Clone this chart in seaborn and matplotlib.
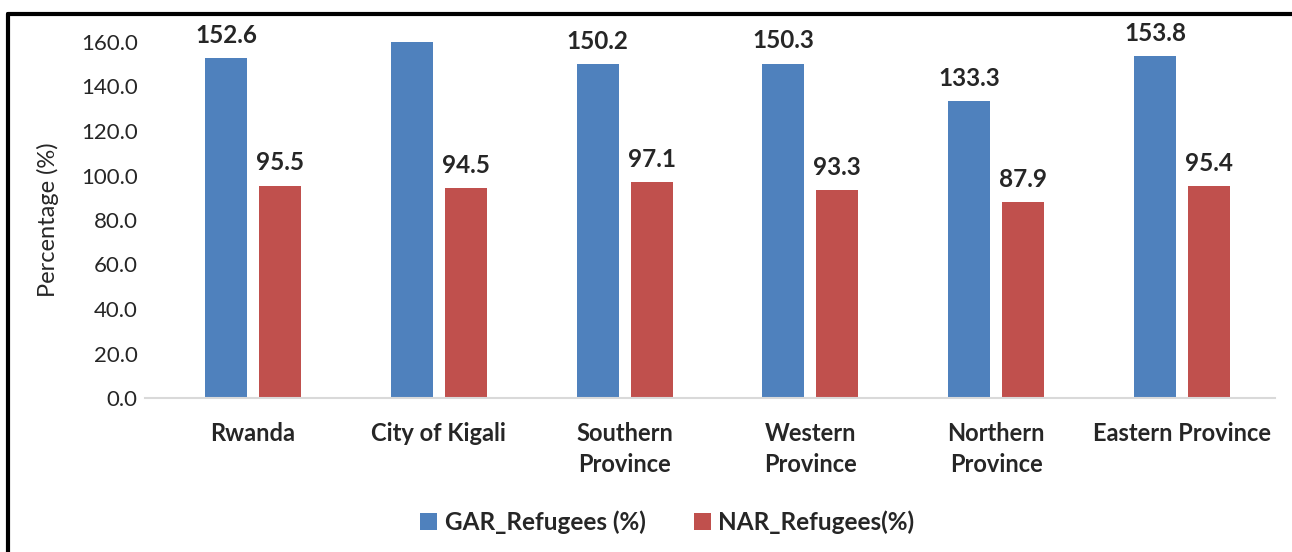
import pandas as pd
import seaborn as sns
import matplotlib.pyplot as plt
from matplotlib.lines import Line2D

# Data
regions = ['Rwanda', 'City of Kigali', 'Southern\nProvince', 'Western\nProvince',
           'Northern\nProvince', 'Eastern Province']
gar = [152.6, 161.0, 150.2, 150.3, 133.3, 153.8]
nar = [95.5, 94.5, 97.1, 93.3, 87.9, 95.4]
series = ['GAR_Refugees (%)', 'NAR_Refugees(%)']
colors = ['#4F81BD', '#C0504D']
ymax = 160

df = pd.DataFrame({'region': regions * 2,
                   'value': gar + nar,
                   'series': [series[0]] * len(regions) + [series[1]] * len(regions)})

sns.set_style('white')
plt.rcParams['font.family'] = ['Lato', 'DejaVu Sans']

fig = plt.figure(figsize=(12.92, 5.52), dpi=100)
ax = fig.add_axes([160 / 1292, 1 - 398 / 552, 1115 / 1292, 356 / 552])

sns.barplot(data=df, x='region', y='value', hue='series', palette=colors,
            width=0.58, gap=0.22, ax=ax, saturation=1, edgecolor='none')

ax.set_ylim(0, ymax)
ax.set_yticks(range(0, 161, 20))
ax.set_yticklabels([f'{v:.1f}' for v in range(0, 161, 20)], fontsize=16)
ax.set_ylabel('Percentage (%)', fontsize=17, labelpad=16)
ax.set_xlabel('')
ax.tick_params(axis='x', labelsize=17, pad=17, length=0)
ax.tick_params(axis='y', pad=16, length=0)
for lbl in ax.get_xticklabels():
    lbl.set_fontweight('bold')
    lbl.set_linespacing(1.45)

for s in ['top', 'right', 'left']:
    ax.spines[s].set_visible(False)
ax.spines['bottom'].set_color('#D9D9D9')
ax.spines['bottom'].set_linewidth(1.5)
ax.spines['bottom'].set_bounds(-0.58, 5.5)

# value labels, skip bars that run past the axis top
for cont in ax.containers:
    labels = [f'{b.get_height():.1f}' if b.get_height() <= ymax else '' for b in cont]
    ax.bar_label(cont, labels=labels, padding=8, fontsize=17.5, fontweight='bold', clip_on=False)

leg = ax.legend(loc='center', bbox_to_anchor=(0.455, -0.35), ncol=2, frameon=False,
                prop={'size': 17.5, 'weight': 'bold'}, handlelength=0.7, handleheight=0.7,
                handletextpad=0.3, columnspacing=2.0)
for t in leg.get_texts():
    t.set_fontweight('bold')

# outer frame (only top and left edges show in the crop)
fig.add_artist(Line2D([8 / 1292, 8 / 1292], [0, 1 - 14 / 552], color='black', lw=3,
                      transform=fig.transFigure))
fig.add_artist(Line2D([8 / 1292, 1], [1 - 14 / 552, 1 - 14 / 552], color='black', lw=3,
                      transform=fig.transFigure))

fig.savefig('out.png', dpi=100)
